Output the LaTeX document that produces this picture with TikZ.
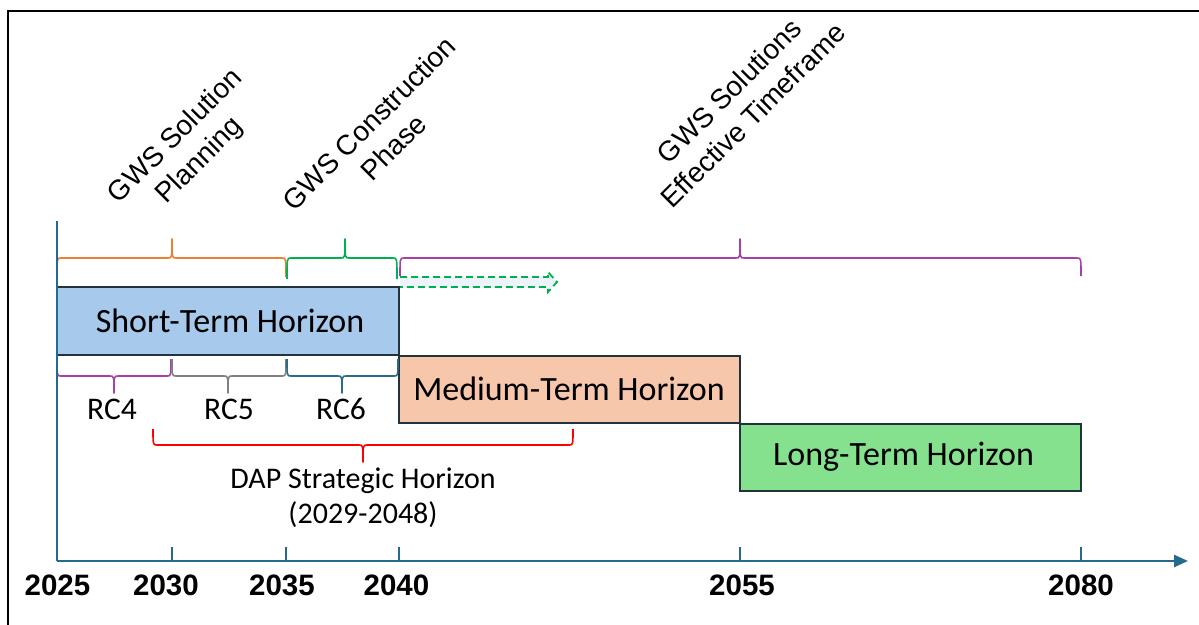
\documentclass[tikz,border=0pt]{standalone}
\usepackage{fontspec}
\setmainfont{Carlito}
\newfontfamily\arialf{Liberation Sans}
\usetikzlibrary{arrows.meta}
\definecolor{axisc}{HTML}{236A8C}
\definecolor{orangec}{HTML}{ED7D31}
\definecolor{greenc}{HTML}{00B050}
\definecolor{purplec}{HTML}{A640A8}
\definecolor{grayc}{HTML}{808080}
\definecolor{tealc}{HTML}{2B6A8A}
\definecolor{redc}{HTML}{FF0000}
\definecolor{boxline}{HTML}{22333D}
\definecolor{shortc}{HTML}{A7C9EC}
\definecolor{mediumc}{HTML}{F7C7AC}
\definecolor{longc}{HTML}{86E18F}
\definecolor{arrowfill}{HTML}{EDF3FB}
\newcommand\mybrace[7]{%
  \draw[bracestyle,#1] (#2,#6) .. controls (#2,#5) .. (#2+4,#5) -- (#4-4,#5)
    .. controls (#4,#5) .. (#4,#7) .. controls (#4,#5) .. (#4+4,#5)
    -- (#3-4,#5) .. controls (#3,#5) .. (#3,#6);}
\tikzset{
  bracestyle/.style={line width=1.6pt, line join=round},
  axisline/.style={axisc, line width=2.6pt},
  tickline/.style={axisc, line width=1.6pt},
  hbox/.style={draw=boxline, line width=1.8pt, inner sep=0pt, outer sep=0pt},
  boxtext/.style={font=\fontsize{34}{39}\selectfont, inner sep=0pt},
  rctext/.style={font=\fontsize{31.5}{36}\selectfont, inner sep=0pt},
  daptext/.style={font=\fontsize{30}{35}\selectfont, align=center, inner sep=0pt},
  rottext/.style={font=\arialf\fontsize{28}{34}\selectfont, align=center, rotate=45, inner sep=0pt},
  yeartext/.style={font=\arialf\bfseries\fontsize{29.5}{34}\selectfont, inner sep=0pt},
  dasharrow/.style={draw=greenc, dashed, dash pattern=on 7pt off 4pt, line width=1.8pt, fill=arrowfill, line join=miter},
}
\begin{document}
\begin{tikzpicture}[x=1pt,y=-1pt]
\useasboundingbox (0,0) rectangle (1199,624);
\fill[white] (0,0) rectangle (1199,624);
% frame
\draw[black, line width=2pt] (8,626) -- (8,11) -- (1201,11);

% rotated labels
\node[rottext] (plan) at (188,149) {GWS Solution\\Planning};
\node[rottext] (constr) at (381,135) {GWS Construction\\Phase};
\node[rottext] (eff) at (741,103) {GWS Solutions\\Effective Timeframe};

% top braces
\mybrace{orangec}{57}{286}{172}{258}{277}{239}
\mybrace{greenc}{287}{397}{345}{258}{279}{239}
\mybrace{purplec}{400}{1081}{740}{258}{276}{239}

% dashed arrow
\draw[dasharrow] (400,277) -- (548,277) -- (548,272) -- (557,282) -- (548,292) -- (548,287) -- (400,287);

% boxes
\node[hbox, fill=shortc, minimum width=342pt, minimum height=68pt] (short) at (228,321) {};
\node[boxtext] (shorttxt) at (230,321) {Short-Term Horizon};
\node[hbox, fill=mediumc, minimum width=341pt, minimum height=67pt] (medium) at (569.5,389.5) {};
\node[boxtext] (mediumtxt) at (569,389) {Medium-Term Horizon};
\node[hbox, fill=longc, minimum width=341pt, minimum height=67pt] (long) at (910.5,457.5) {};
\node[boxtext] (longtxt) at (903.5,457) {Long-Term Horizon};

% RC braces
\mybrace{purplec}{57}{171}{114}{376}{359}{393}
\mybrace{grayc}{172}{286}{228}{376}{359}{393}
\mybrace{tealc}{287}{398}{342}{376}{359}{393}
\node[rctext] (rc4) at (112,409) {RC4};
\node[rctext] (rc5) at (229,409) {RC5};
\node[rctext] (rc6) at (341,409) {RC6};

% DAP brace
\mybrace{redc}{153}{573}{363}{445}{429}{462}
\node[daptext] (dap) at (363,498) {DAP Strategic Horizon\\(2029-2048)};

% axes
\coordinate (origin) at (57,561);
\coordinate (xend) at (1188,561);
\coordinate (ytop) at (57,221);
\draw[axisline, -{Triangle[length=14pt,width=12pt]}] (origin) -- (xend);
\draw[axisline] (origin) -- (ytop);
\foreach \t in {172,286,399,740,1081} {
  \draw[tickline] (\t,561) -- (\t,547);
}

% year labels
\node[yeartext] (y2025) at (57.5,585) {2025};
\node[yeartext] (y2030) at (166,585) {2030};
\node[yeartext] (y2035) at (282,585) {2035};
\node[yeartext] (y2040) at (396.5,585) {2040};
\node[yeartext] (y2055) at (742,585) {2055};
\node[yeartext] (y2080) at (1081,585) {2080};
\end{tikzpicture}
\end{document}
